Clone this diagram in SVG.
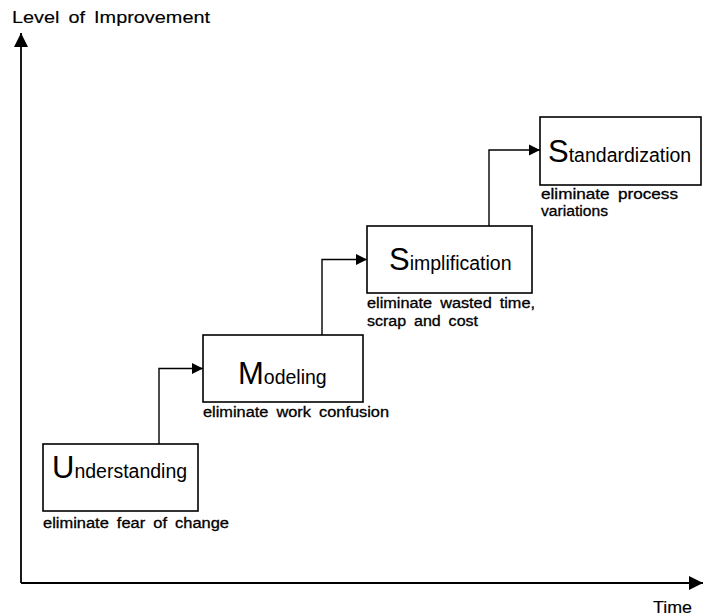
<svg xmlns="http://www.w3.org/2000/svg" width="705" height="616" viewBox="0 0 705 616">
  <style>
    text { font-family: "Liberation Sans", Arial, sans-serif; fill: #000; }
    .box { fill: #fff; stroke: #000; stroke-width: 1.6; }
    .axis { fill: none; stroke: #000; stroke-width: 1.8; }
    .conn { fill: none; stroke: #000; stroke-width: 1.4; }
    .big { font-size: 31px; }
    .sm { font-size: 19.5px; }
    .cap { font-size: 14px; word-spacing: 3px; stroke: #000; stroke-width: 0.3; }
    .axlabel { font-size: 17px; word-spacing: 3px; stroke: #000; stroke-width: 0.15; }
  </style>
  <defs>
    <marker id="tri" viewBox="0 0 10 10" refX="10" refY="5" markerWidth="11" markerHeight="12" markerUnits="userSpaceOnUse" orient="auto">
      <path d="M0,0 L10,5 L0,10 Z" fill="#000"/>
    </marker>
    <marker id="axtri" viewBox="0 0 10 10" refX="10" refY="5" markerWidth="15" markerHeight="14" markerUnits="userSpaceOnUse" orient="auto">
      <path d="M0,0 L10,5 L0,10 Z" fill="#000"/>
    </marker>
  </defs>

  <!-- axes -->
  <g id="axes">
    <path class="axis" d="M21,583 L21,33" marker-end="url(#axtri)"/>
    <path class="axis" d="M21,583 L703,583" marker-end="url(#axtri)"/>
    <text class="axlabel" x="12" y="23" textLength="198" lengthAdjust="spacingAndGlyphs">Level of Improvement</text>
    <text class="axlabel" x="653" y="613" textLength="39" lengthAdjust="spacingAndGlyphs">Time</text>
  </g>

  <!-- step connectors -->
  <g id="connectors">
    <path class="conn" d="M159,444 L159,368.5 L203,368.5" marker-end="url(#tri)"/>
    <path class="conn" d="M322,335 L322,259.5 L367,259.5" marker-end="url(#tri)"/>
    <path class="conn" d="M489,226 L489,150 L540,150" marker-end="url(#tri)"/>
  </g>

  <g id="understanding">
    <rect class="box" x="43" y="444" width="155" height="67"/>
    <text x="52" y="478"><tspan class="big">U</tspan><tspan class="sm">nderstanding</tspan></text>
    <text class="cap" x="43" y="528" textLength="186" lengthAdjust="spacingAndGlyphs">eliminate fear of change</text>
  </g>

  <g id="modeling">
    <rect class="box" x="203" y="335" width="160" height="67"/>
    <text x="238" y="384"><tspan class="big">M</tspan><tspan class="sm">odeling</tspan></text>
    <text class="cap" x="203" y="417" textLength="186" lengthAdjust="spacingAndGlyphs">eliminate work confusion</text>
  </g>

  <g id="simplification">
    <rect class="box" x="367" y="226" width="165" height="67"/>
    <text x="389" y="270"><tspan class="big">S</tspan><tspan class="sm">implification</tspan></text>
    <text class="cap" x="367" y="308" textLength="168" lengthAdjust="spacingAndGlyphs">eliminate wasted time,</text>
    <text class="cap" x="367" y="326" textLength="111" lengthAdjust="spacingAndGlyphs">scrap and cost</text>
  </g>

  <g id="standardization">
    <rect class="box" x="540" y="117" width="161" height="68"/>
    <text x="548" y="162"><tspan class="big">S</tspan><tspan class="sm">tandardization</tspan></text>
    <text class="cap" x="541" y="199" textLength="137" lengthAdjust="spacingAndGlyphs">eliminate process</text>
    <text class="cap" x="541" y="216" textLength="67" lengthAdjust="spacingAndGlyphs">variations</text>
  </g>
</svg>
